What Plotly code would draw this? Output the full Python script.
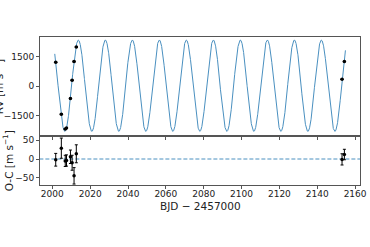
import numpy as np
import plotly.graph_objects as go
from plotly.subplots import make_subplots

# ---- data ----
rv_time = [2001.81, 2004.77, 2006.84, 2007.51, 2009.59, 2010.47, 2011.50, 2012.69, 2153.11, 2154.35]
rv_value = [1220, -1424, -2186, -2136, -625, 305, 1256, 1998, 356, 1256]
rv_err = [17, 27, 15, 15, 18, 20, 22, 24, 15, 14]
oc_value = [-2, 29, -5, -4, 6, -10, -45, 14, -1, 12]

# model (fitted sinusoid) parameters
model_period = 14.27
model_trough_time = 2006.62
model_amplitude = 2330
model_offset = 25
model_start, model_end = 2001.3, 2154.9

x_ticks = [2000, 2020, 2040, 2060, 2080, 2100, 2120, 2140, 2160]
rv_ticks = [-1500, 0, 1500]
oc_ticks = [-50, 0, 50]

t_model = np.linspace(model_start, model_end, 4000)
rv_model = model_offset - model_amplitude * np.cos(2 * np.pi * (t_model - model_trough_time) / model_period)

curve_color = "#4a90c0"
axis_color = "#555555"
font_family = "DejaVu Sans"

fig = make_subplots(rows=2, cols=1, shared_xaxes=True, vertical_spacing=0,
                    row_heights=[0.669, 0.331])

fig.add_trace(go.Scatter(x=t_model, y=rv_model, mode="lines",
                         line=dict(color=curve_color, width=1.0),
                         hoverinfo="skip", showlegend=False), row=1, col=1)
fig.add_trace(go.Scatter(x=rv_time, y=rv_value, mode="markers",
                         marker=dict(color="black", size=3.5),
                         error_y=dict(type="data", array=rv_err, color="black",
                                      thickness=1, width=1.5),
                         showlegend=False), row=1, col=1)

fig.add_trace(go.Scatter(x=[1990, 2170], y=[0, 0], mode="lines",
                         line=dict(color=curve_color, width=1, dash="4px,2px"),
                         hoverinfo="skip", showlegend=False), row=2, col=1)
fig.add_trace(go.Scatter(x=rv_time, y=oc_value, mode="markers",
                         marker=dict(color="black", size=3.5),
                         error_y=dict(type="data", array=rv_err, color="black",
                                      thickness=1, width=1.5),
                         showlegend=False), row=2, col=1)

axis_common = dict(showline=True, linecolor=axis_color, linewidth=1, mirror=True,
                   showgrid=False, zeroline=False, ticks="outside", ticklen=3,
                   tickcolor=axis_color, tickwidth=1,
                   tickfont=dict(family=font_family, size=9, color="#222222"))

fig.update_xaxes(range=[1993.5, 2162.6], tickvals=x_ticks, ticklabeloverflow="allow",
                 ticklabelstandoff=-3, **axis_common)
fig.update_xaxes(showticklabels=False, row=1, col=1)
fig.update_yaxes(range=[-2540, 2510], tickvals=rv_ticks, row=1, col=1, **axis_common)
fig.update_yaxes(range=[-69.5, 61.5], tickvals=oc_ticks, row=2, col=1, **axis_common)

fig.update_layout(
    width=370, height=247,
    margin=dict(l=40, r=3, t=37, b=62),
    paper_bgcolor="white", plot_bgcolor="white",
    font=dict(family=font_family, size=10.5, color="#222222"),
    annotations=[
        dict(text="BJD − 2457000", xref="paper", yref="paper", x=0.5, y=-0.14,
             xanchor="center", yanchor="middle", showarrow=False,
             font=dict(size=10.5)),
        dict(text="O-C [m s<sup>−1</sup>]", xref="paper", yref="paper",
             x=-0.101, y=0.1655, textangle=-90, xanchor="center", yanchor="middle",
             showarrow=False, font=dict(size=10.5)),
        dict(text="RV [m s<sup>−1</sup>]", xref="paper", yref="paper",
             x=-0.132, y=0.6655, textangle=-90, xanchor="center", yanchor="middle",
             showarrow=False, font=dict(size=10.5)),
    ],
)

fig.write_html("out.html")
